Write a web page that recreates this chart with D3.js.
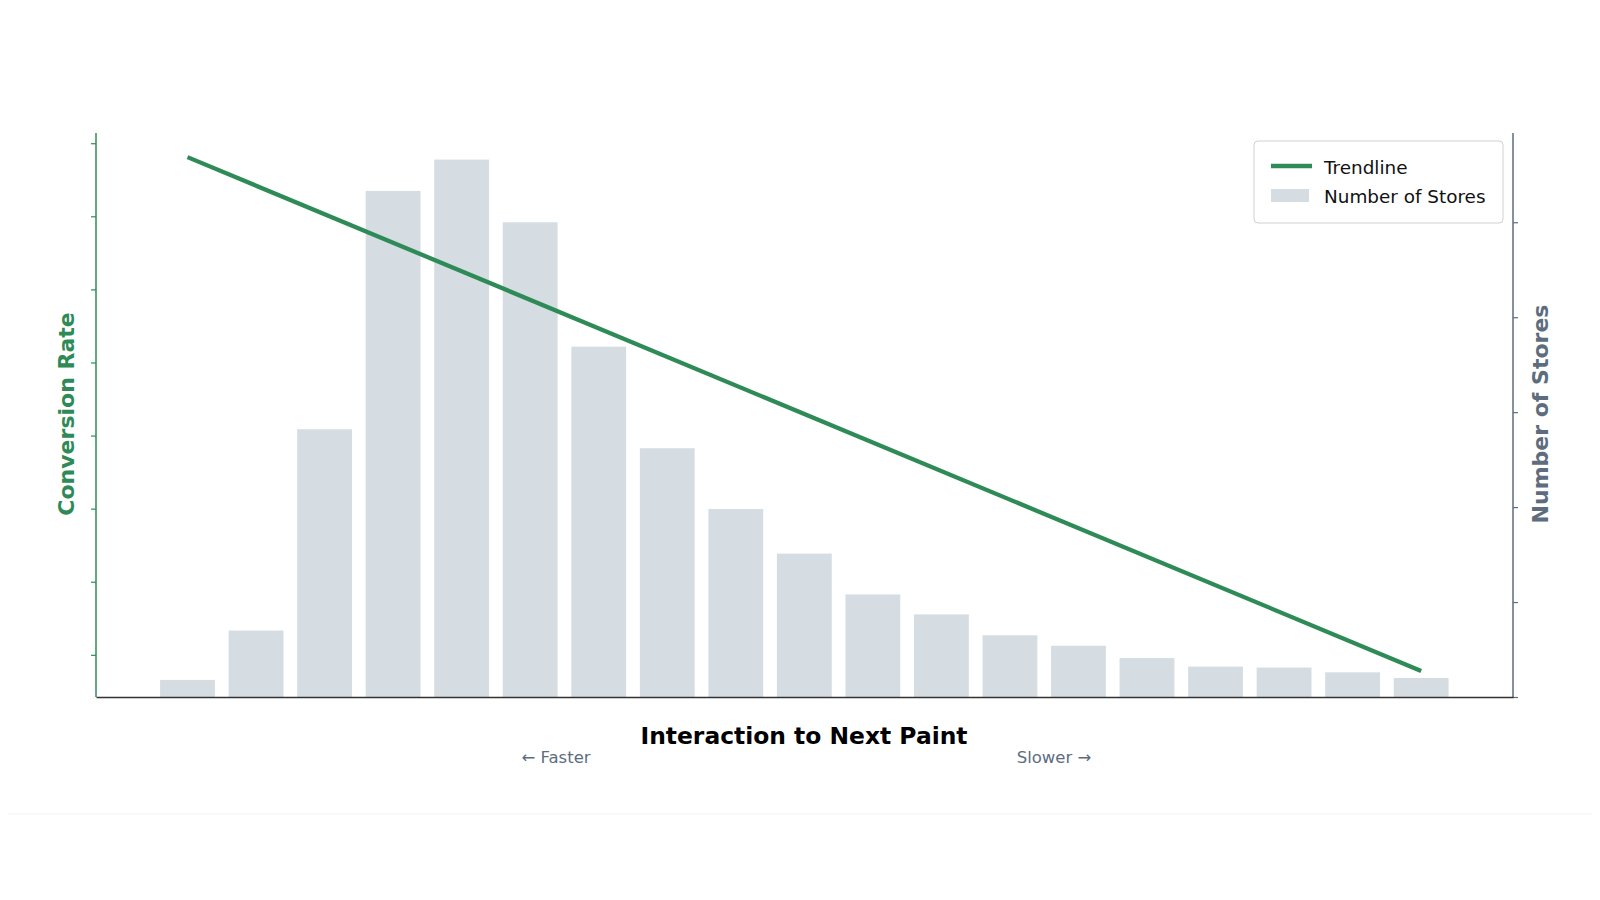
<!DOCTYPE html>
<html>
<head>
<meta charset="utf-8">
<script src="https://cdn.jsdelivr.net/npm/d3@7"></script>
<style>
  body { margin: 0; background: #fff; }
  svg { display: block; font-family: "DejaVu Sans", sans-serif; }
</style>
</head>
<body>
<svg id="chart" width="1600" height="900"></svg>
<script>
// INP buckets, left (fast) to right (slow)
const buckets = d3.range(19);
const storeCounts = [18, 70, 282, 533, 566, 500, 369, 262, 198, 151, 108, 87, 65, 54, 41, 32, 31, 26, 20];
const storeTicks = [0, 100, 200, 300, 400, 500];
// trendline endpoints (first and last bucket)
const trendBuckets = [0, 18];
const trendValues = [7.81, 0.78];
const rateTicks = [1, 2, 3, 4, 5, 6, 7, 8];

const green = "#2e8b57";
const slate = "#5d6d7e";
const barColor = "#d5dde3";

const svg = d3.select("#chart");
const plotLeft = 96, plotRight = 1513, plotTop = 133, plotBottom = 697;

const x = d3.scaleLinear()
    .domain([-1.335, 19.34])
    .range([plotLeft, plotRight]);

const yStores = d3.scaleLinear()
    .domain([0, 594])
    .range([plotBottom, plotTop]);

const yRate = d3.scaleLinear()
    .domain([0.423, 8.14])
    .range([plotBottom, plotTop]);

const barW = (x(1) - x(0)) * 0.8;

// faint page edge line
svg.append("line")
    .attr("x1", 8).attr("x2", 1592)
    .attr("y1", 814).attr("y2", 814)
    .attr("stroke", "#f3f3f3");

svg.selectAll(".bar")
    .data(buckets)
    .enter().append("rect")
    .attr("class", "bar")
    .attr("x", d => x(d) - barW / 2)
    .attr("width", barW)
    .attr("y", d => yStores(storeCounts[d]))
    .attr("height", d => yStores(0) - yStores(storeCounts[d]))
    .attr("fill", barColor);

// trendline
const line = d3.line()
    .x(d => x(d[0]))
    .y(d => yRate(d[1]));

svg.append("path")
    .datum(trendBuckets.map((b, i) => [b, trendValues[i]]))
    .attr("d", line)
    .attr("fill", "none")
    .attr("stroke", green)
    .attr("stroke-width", 4.3);

// left axis
const leftAxis = svg.append("g")
    .attr("transform", `translate(${plotLeft},0)`)
    .call(d3.axisLeft(yRate).tickValues(rateTicks).tickSize(5).tickFormat(""));
leftAxis.select(".domain").attr("stroke", green).attr("stroke-width", 1.5).attr("d", `M0,${plotTop}V${plotBottom}`);
leftAxis.selectAll(".tick line").attr("stroke", green).attr("stroke-width", 1.2);

// right axis
const rightAxis = svg.append("g")
    .attr("transform", `translate(${plotRight},0)`)
    .call(d3.axisRight(yStores).tickValues(storeTicks).tickSize(5).tickFormat(""));
rightAxis.select(".domain").attr("stroke", slate).attr("stroke-width", 1.5).attr("d", `M0,${plotTop}V${plotBottom}`);
rightAxis.selectAll(".tick line").attr("stroke", slate).attr("stroke-width", 1.2);

// bottom axis
svg.append("g")
    .attr("transform", `translate(0,${plotBottom})`)
    .call(d3.axisBottom(x).tickValues([]).tickSize(0))
    .select(".domain").attr("stroke", "#333").attr("stroke-width", 1.5);

// axis titles
svg.append("text")
    .attr("transform", `translate(66,414) rotate(-90)`)
    .attr("text-anchor", "middle")
    .attr("dominant-baseline", "central")
    .attr("font-size", 22).attr("font-weight", "bold")
    .attr("fill", green)
    .text("Conversion Rate");

svg.append("text")
    .attr("transform", `translate(1540,414) rotate(-90)`)
    .attr("text-anchor", "middle")
    .attr("dominant-baseline", "central")
    .attr("font-size", 22).attr("font-weight", "bold")
    .attr("fill", slate)
    .text("Number of Stores");

svg.append("text")
    .attr("x", 804).attr("y", 744)
    .attr("text-anchor", "middle")
    .attr("font-size", 23.4).attr("font-weight", "bold")
    .attr("fill", "#000")
    .text("Interaction to Next Paint");

svg.append("text")
    .attr("x", 556).attr("y", 763)
    .attr("text-anchor", "middle")
    .attr("font-size", 16.5)
    .attr("fill", slate)
    .text("← Faster");

svg.append("text")
    .attr("x", 1054).attr("y", 763)
    .attr("text-anchor", "middle")
    .attr("font-size", 16.5)
    .attr("fill", slate)
    .text("Slower →");

// legend
const legend = svg.append("g");
legend.append("rect")
    .attr("x", 1254).attr("y", 141)
    .attr("width", 249).attr("height", 82)
    .attr("rx", 4)
    .attr("fill", "#fff")
    .attr("stroke", "#d0d0d0");
legend.append("line")
    .attr("x1", 1271).attr("x2", 1312)
    .attr("y1", 166).attr("y2", 166)
    .attr("stroke", green).attr("stroke-width", 4.3);
legend.append("rect")
    .attr("x", 1271).attr("y", 189)
    .attr("width", 38).attr("height", 13)
    .attr("fill", barColor);
legend.append("text")
    .attr("x", 1324).attr("y", 167)
    .attr("dominant-baseline", "central")
    .attr("font-size", 18.4).attr("fill", "#111")
    .text("Trendline");
legend.append("text")
    .attr("x", 1324).attr("y", 196)
    .attr("dominant-baseline", "central")
    .attr("font-size", 18.4).attr("fill", "#111")
    .text("Number of Stores");
</script>
</body>
</html>
